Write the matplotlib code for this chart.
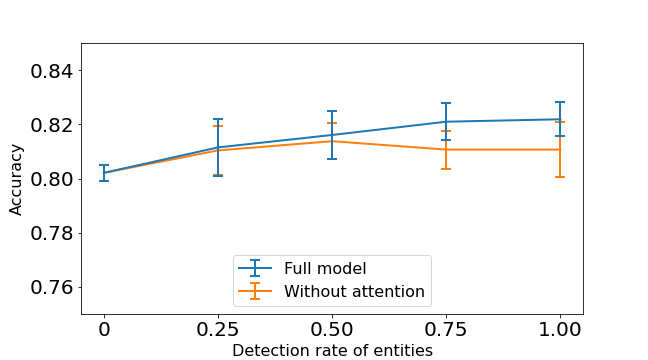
import matplotlib
matplotlib.use("Agg")
import matplotlib.pyplot as plt

detection_rate = [0, 0.25, 0.50, 0.75, 1.00]
tick_labels = ["0", "0.25", "0.50", "0.75", "1.00"]

full_model_mean = [0.8021, 0.8115, 0.8161, 0.8210, 0.8219]
full_model_err = [0.0029, 0.0104, 0.0087, 0.0069, 0.0062]

no_attention_mean = [0.8021, 0.8104, 0.8138, 0.8107, 0.8107]
no_attention_err = [0.0029, 0.0091, 0.0067, 0.0070, 0.0103]

fig = plt.figure(figsize=(9, 5), dpi=72)
ax = fig.add_subplot(111)
fig.subplots_adjust(left=0.125, right=0.9, top=0.88, bottom=0.128)

ax.errorbar(detection_rate, full_model_mean, yerr=full_model_err, color="#1f77b4",
            linewidth=2, elinewidth=2, capsize=5, capthick=2, label="Full model", zorder=3)
ax.errorbar(detection_rate, no_attention_mean, yerr=no_attention_err, color="#ff7f0e",
            linewidth=2, elinewidth=2, capsize=5, capthick=2, label="Without attention", zorder=2)

ax.set_ylim(0.75, 0.85)
ax.set_yticks([0.76, 0.78, 0.80, 0.82, 0.84])
ax.set_xticks(detection_rate)
ax.set_xticklabels(tick_labels)
ax.tick_params(axis="both", labelsize=20)
ax.set_xlabel("Detection rate of entities", fontsize=16)
ax.set_ylabel("Accuracy", fontsize=16)
ax.legend(loc="lower center", fontsize=16)

fig.savefig("out.png", dpi=72)
